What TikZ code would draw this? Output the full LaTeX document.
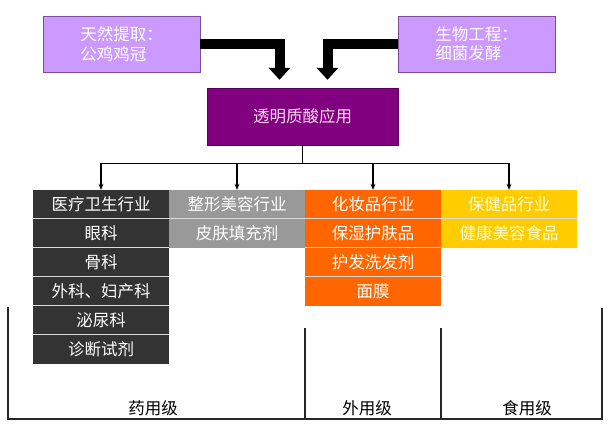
\documentclass[tikz,border=0pt]{standalone}
\usepackage{fontspec}
\setmainfont{Noto Sans CJK SC}
\usetikzlibrary{arrows.meta}
\definecolor{srcfill}{HTML}{CC99FF}
\definecolor{srcline}{HTML}{7A4C99}
\definecolor{hyafill}{HTML}{800080}
\definecolor{medfill}{HTML}{333333}
\definecolor{cosfill}{HTML}{999999}
\definecolor{skinfill}{HTML}{FF6600}
\definecolor{foodfill}{HTML}{FFCC00}
\begin{document}
\begin{tikzpicture}[x = 1pt, y = -1pt,
    every node/.style = {font = \fontsize{16.5}{19.5}\selectfont, inner sep = 0pt},
    src/.style = {draw = srcline, fill = srcfill, text = white, minimum width = 157pt, minimum height = 56pt, align = left},
    hya/.style = {draw = hyafill!70!black, fill = hyafill, text = white!85!magenta, minimum width = 191pt, minimum height = 57pt},
    cell/.style = {fill = #1, text = white, minimum width = 136pt, minimum height = 29pt},
    sep/.style = {white!70!gray, line width = .8pt},
    fat/.style = {line width = 10pt, -{Triangle[width = 21pt, length = 12pt]}, shorten > = 8pt},
    bus/.style = {line width = 1.4pt},
    grade/.style = {line width = 2pt, black!85}]
  \useasboundingbox (0,0) rectangle (610,426);
  \node [src] (nat) at (121.5,44) {天然提取：\\公鸡鸡冠};
  \node [src] (bio) at (476.5,44) {生物工程：\\细菌发酵};
  \node [hya] (hya) at (302.5,116.5) {透明质酸应用};
  \draw [fat] (nat.east) -| ([xshift = -23pt]hya.north);
  \draw [fat] (bio.west) -| ([xshift = 25pt]hya.north);
  % industries
  \foreach \t [count = \i] in {医疗卫生行业, 眼科, 骨科, 外科、妇产科, 泌尿科, 诊断试剂}
    \node [cell = medfill] (med\i) at (101,175.5 + 29*\i) {\t};
  \foreach \t [count = \i] in {整形美容行业, 皮肤填充剂}
    \node [cell = cosfill] (cos\i) at (237,175.5 + 29*\i) {\t};
  \foreach \t [count = \i] in {化妆品行业, 保湿护肤品, 护发洗发剂, 面膜}
    \node [cell = skinfill] (skin\i) at (373,175.5 + 29*\i) {\t};
  \foreach \t [count = \i] in {保健品行业, 健康美容食品}
    \node [cell = foodfill, text = white!85!yellow] (food\i) at (509,175.5 + 29*\i) {\t};
  \foreach \i in {2,...,6}
    \draw [sep] (med\i.north west) -- (med\i.north east);
  \draw [sep] (cos2.north west) -- (cos2.north east);
  \foreach \i in {2,...,4}
    \draw [sep] (skin\i.north west) -- (skin\i.north east);
  \draw [sep] (food2.north west) -- (food2.north east);
  % fork
  \draw [bus] (hya.south) -- ++(0,18) coordinate (fork);
  \draw [bus] (fork -| med1.north) -- (fork -| food1.north);
  \foreach \n in {med1, cos1, skin1, food1}
    \draw [bus, -{Stealth[length = 6pt, width = 5pt]}] (fork -| \n.north) -- (\n.north);
  % grades
  \draw [grade] (8,307) -- (8,419) -- (602,419) -- (602,308);
  \draw [grade] (305,328) -- (305,419);
  \draw [grade] (441,328) -- (441,419);
  \node (drug) at (153,408) {药用级};
  \node (ext) at (367,408) {外用级};
  \node (eat) at (527,408) {食用级};
\end{tikzpicture}
\end{document}
